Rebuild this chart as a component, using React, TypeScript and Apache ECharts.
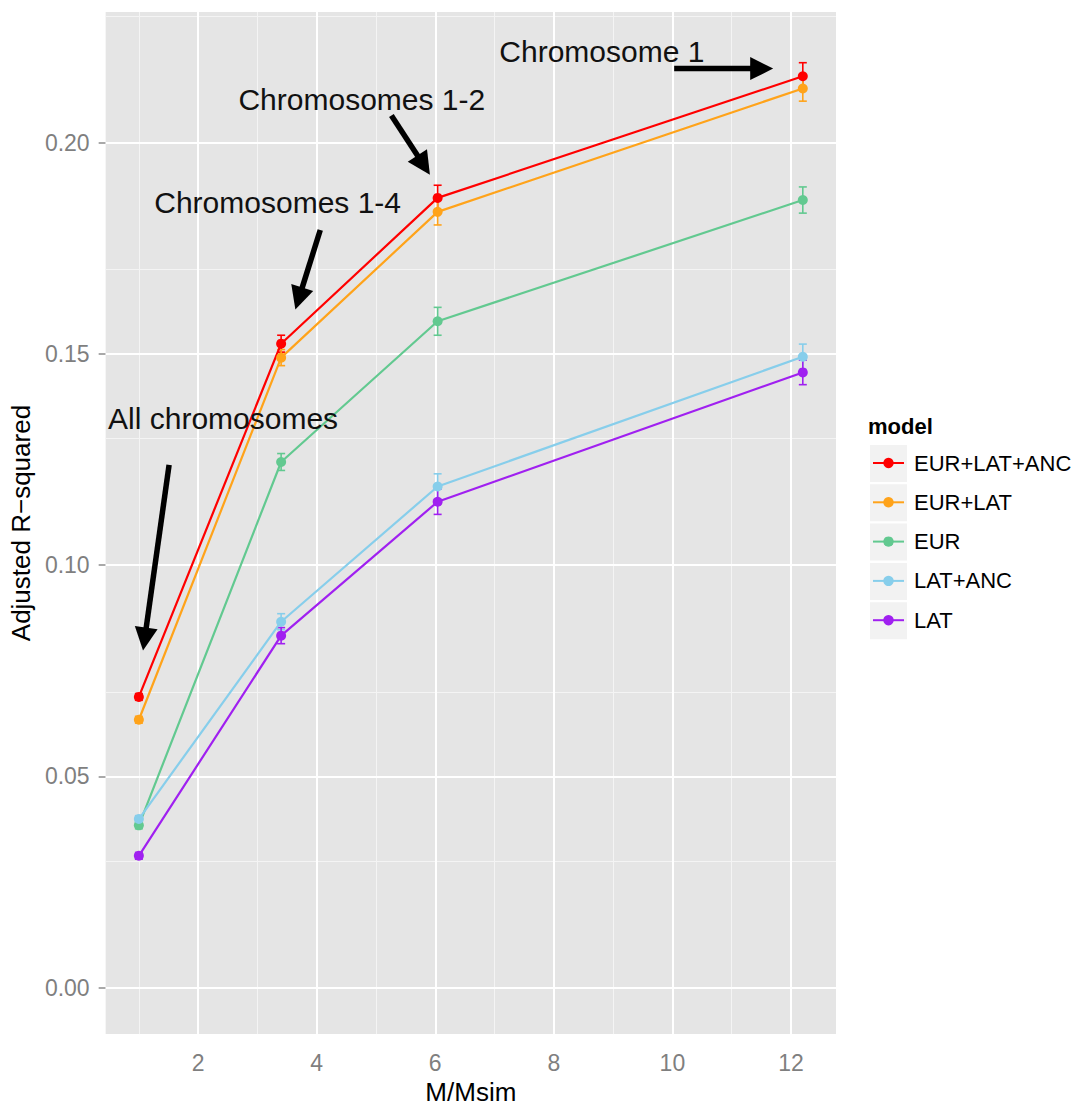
import React, { useEffect, useRef } from "react";
import * as echarts from "echarts";

const FONT = "'Liberation Sans', Arial, Helvetica, sans-serif";

// ---- data ----
const X_VALUES = [1, 3.4, 6.04, 12.2];
const MODELS = ["EUR+LAT+ANC", "EUR+LAT", "EUR", "LAT+ANC", "LAT"];
const COLORS = ["#ff0000", "#ffa31a", "#62c990", "#87ceeb", "#a020f0"];

const EUR_LAT_ANC = [0.0688, 0.1524, 0.1869, 0.2157];
const EUR_LAT = [0.0634, 0.1491, 0.1836, 0.2128];
const EUR = [0.0384, 0.1244, 0.1577, 0.1864];
const LAT_ANC = [0.0399, 0.0866, 0.1186, 0.1493];
const LAT = [0.0312, 0.0833, 0.115, 0.1456];

const ERR_EUR_LAT_ANC = [0.0008, 0.002, 0.003, 0.0032];
const ERR_EUR_LAT = [0.0008, 0.0019, 0.0031, 0.003];
const ERR_EUR = [0.0008, 0.002, 0.0033, 0.0031];
const ERR_LAT_ANC = [0.0008, 0.0019, 0.003, 0.003];
const ERR_LAT = [0.0008, 0.0019, 0.003, 0.0029];

const VALUES = [EUR_LAT_ANC, EUR_LAT, EUR, LAT_ANC, LAT];
const ERRORS = [ERR_EUR_LAT_ANC, ERR_EUR_LAT, ERR_EUR, ERR_LAT_ANC, ERR_LAT];

// axis ticks
const X_MIN = 0.44;
const X_MAX = 12.76;
const Y_MIN = -0.011;
const Y_MAX = 0.2309;
const X_MAJOR = [2, 4, 6, 8, 10, 12];
const X_MINOR = [1, 3, 5, 7, 9, 11];
const Y_MAJOR = [0, 0.05, 0.1, 0.15, 0.2];
const Y_MINOR = [0.025, 0.075, 0.125, 0.175, 0.225];

// annotations (data coordinates)
const ANN_TEXT = ["Chromosome 1", "Chromosomes 1-2", "Chromosomes 1-4", "All chromosomes"];
const ANN_TEXT_X = [7.08, 2.68, 1.26, 0.48];
const ANN_TEXT_Y = [0.2215, 0.2101, 0.1857, 0.1347];
const ARROW_FROM_X = [10.03, 5.26, 4.06, 1.51];
const ARROW_FROM_Y = [0.2175, 0.2064, 0.1793, 0.1237];
const ARROW_TO_X = [11.7, 5.91, 3.64, 1.07];
const ARROW_TO_Y = [0.2175, 0.1924, 0.1605, 0.0798];

export default function App() {
  const ref = useRef<HTMLDivElement>(null);

  useEffect(() => {
    if (!ref.current) return;
    const chart = echarts.init(ref.current, null, { renderer: "svg" });

    const gridLineData = [
      ...X_MINOR.map((v) => ({ xAxis: v, lineStyle: { color: "#f4f4f4", width: 1, type: "solid" } })),
      ...Y_MINOR.map((v) => ({ yAxis: v, lineStyle: { color: "#f4f4f4", width: 1, type: "solid" } })),
      ...X_MAJOR.map((v) => ({ xAxis: v, lineStyle: { color: "#ffffff", width: 2, type: "solid" } })),
      ...Y_MAJOR.map((v) => ({ yAxis: v, lineStyle: { color: "#ffffff", width: 2, type: "solid" } })),
    ];

    const lineSeries = MODELS.map((m, i) => ({
      name: m,
      type: "line",
      data: X_VALUES.map((x, j) => [x, VALUES[i][j]]),
      symbol: "circle",
      symbolSize: 10,
      showSymbol: true,
      lineStyle: { width: 2.2, color: COLORS[i] },
      itemStyle: { color: COLORS[i] },
      z: 4 + i * 0.01,
      silent: true,
    }));

    const errSeries = MODELS.map((m, i) => ({
      name: "err-" + m,
      type: "custom",
      data: X_VALUES.map((x, j) => [x, VALUES[i][j], ERRORS[i][j]]),
      encode: { x: 0, y: 1 },
      z: 3,
      silent: true,
      renderItem: (params: any, api: any) => {
        const x = api.value(0);
        const y = api.value(1);
        const e = api.value(2);
        const top = api.coord([x, y + e]);
        const bot = api.coord([x, y - e]);
        const hw = 4;
        const st = { stroke: COLORS[i], lineWidth: 1.6 };
        return {
          type: "group",
          children: [
            { type: "line", shape: { x1: top[0], y1: top[1], x2: bot[0], y2: bot[1] }, style: st },
            { type: "line", shape: { x1: top[0] - hw, y1: top[1], x2: top[0] + hw, y2: top[1] }, style: st },
            { type: "line", shape: { x1: bot[0] - hw, y1: bot[1], x2: bot[0] + hw, y2: bot[1] }, style: st },
          ],
        };
      },
    }));

    const arrowSeries = {
      name: "arrows",
      type: "custom",
      data: ARROW_FROM_X.map((x, i) => [x, ARROW_FROM_Y[i], ARROW_TO_X[i], ARROW_TO_Y[i]]),
      encode: { x: [0, 2], y: [1, 3] },
      z: 6,
      silent: true,
      renderItem: (params: any, api: any) => {
        const p1 = api.coord([api.value(0), api.value(1)]);
        const p2 = api.coord([api.value(2), api.value(3)]);
        const dx = p2[0] - p1[0];
        const dy = p2[1] - p1[1];
        const len = Math.sqrt(dx * dx + dy * dy);
        const ux = dx / len;
        const uy = dy / len;
        const nx = -uy;
        const ny = ux;
        const L = 23;
        const W = 11.5;
        const bx = p2[0] - ux * L;
        const by = p2[1] - uy * L;
        return {
          type: "group",
          children: [
            {
              type: "line",
              shape: { x1: p1[0], y1: p1[1], x2: bx + ux * 2, y2: by + uy * 2 },
              style: { stroke: "#000", lineWidth: 5.5 },
            },
            {
              type: "polygon",
              shape: {
                points: [
                  [p2[0], p2[1]],
                  [bx + nx * W, by + ny * W],
                  [bx - nx * W, by - ny * W],
                ],
              },
              style: { fill: "#000" },
            },
          ],
        };
      },
    };

    const textSeries = {
      name: "labels",
      type: "custom",
      data: ANN_TEXT_X.map((x, i) => [x, ANN_TEXT_Y[i]]),
      encode: { x: 0, y: 1 },
      z: 6,
      silent: true,
      renderItem: (params: any, api: any) => {
        const p = api.coord([api.value(0), api.value(1)]);
        return {
          type: "text",
          x: p[0],
          y: p[1],
          style: {
            text: ANN_TEXT[params.dataIndex],
            fill: "#111",
            fontSize: 30,
            fontFamily: FONT,
            align: "left",
            verticalAlign: "middle",
          },
        };
      },
    };

    const gridSeries = {
      name: "__grid",
      type: "line",
      data: [],
      silent: true,
      z: 1,
      markLine: {
        silent: true,
        symbol: ["none", "none"],
        label: { show: false },
        z: 1,
        animation: false,
        data: gridLineData,
      },
    };

    const axisLabelStyle = { color: "#7f7f7f", fontSize: 23, fontFamily: FONT };
    const tickStyle = { color: "#8c8c8c", width: 1.5 };

    chart.setOption({
      animation: false,
      backgroundColor: "#ffffff",
      textStyle: { fontFamily: FONT },
      title: {
        text: "model",
        left: 868,
        top: 415,
        padding: 0,
        textStyle: { fontSize: 22, fontWeight: "bold", color: "#000", fontFamily: FONT },
      },
      graphic: MODELS.map((m, i) => ({
        type: "rect",
        left: 870,
        top: 445 + i * 39.3,
        shape: { width: 37, height: 37 },
        style: { fill: "#f2f2f2" },
        z: 0,
        silent: true,
      })),
      legend: {
        data: MODELS,
        orient: "vertical",
        left: 872,
        top: 450,
        padding: 0,
        itemWidth: 31,
        itemHeight: 13,
        itemGap: 13.3,
        selectedMode: false,
        textStyle: {
          fontSize: 22,
          lineHeight: 26,
          color: "#000",
          fontFamily: FONT,
          padding: [0, 0, 0, 5],
        },
      },
      grid: {
        left: 103,
        top: 12,
        width: 733,
        height: 1034,
        show: true,
        backgroundColor: "#e5e5e5",
        borderWidth: 0,
        containLabel: false,
      },
      xAxis: {
        type: "value",
        min: X_MIN,
        max: X_MAX,
        splitLine: { show: false },
        minorSplitLine: { show: false },
        axisLine: { show: false },
        axisTick: { show: true, customValues: X_MAJOR, length: 7, lineStyle: tickStyle },
        axisLabel: { customValues: X_MAJOR, margin: 17, ...axisLabelStyle },
        name: "M/Msim",
        nameLocation: "middle",
        nameGap: 43,
        nameTextStyle: { fontSize: 26, color: "#000", fontFamily: FONT },
      },
      yAxis: {
        type: "value",
        min: Y_MIN,
        max: Y_MAX,
        splitLine: { show: false },
        minorSplitLine: { show: false },
        axisLine: { show: false },
        axisTick: { show: true, customValues: Y_MAJOR, length: 7, lineStyle: tickStyle },
        axisLabel: {
          customValues: Y_MAJOR,
          margin: 16,
          formatter: (v: number) => v.toFixed(2),
          ...axisLabelStyle,
        },
        name: "Adjusted R\u2212squared",
        nameLocation: "middle",
        nameGap: 66,
        nameRotate: 90,
        nameTextStyle: { fontSize: 26, color: "#000", fontFamily: FONT },
      },
      series: [gridSeries, ...errSeries, ...lineSeries, arrowSeries, textSeries],
    });

    return () => chart.dispose();
  }, []);

  return (
    <div
      ref={ref}
      style={{ position: "fixed", left: 0, top: 0, width: 1077, height: 1110, background: "#fff" }}
    />
  );
}
